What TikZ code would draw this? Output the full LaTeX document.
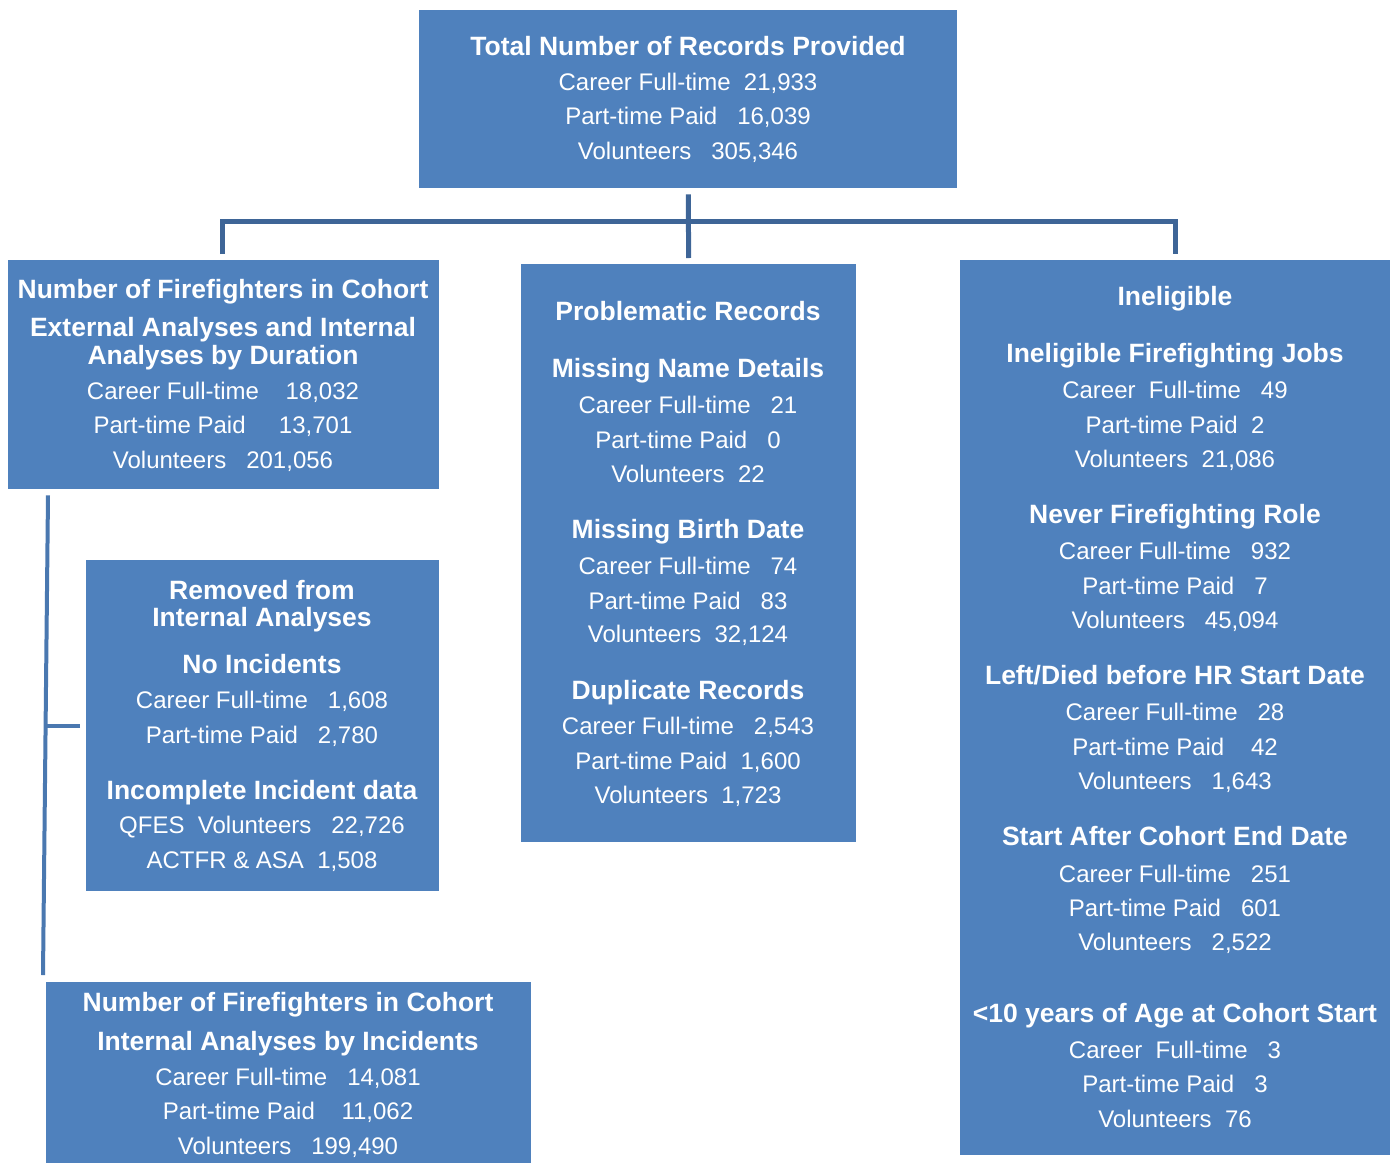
\documentclass[tikz,border=0pt]{standalone}
\usepackage{fontspec}
\setmainfont{Liberation Sans}
\definecolor{boxblue}{HTML}{4F81BD}
\definecolor{connblue}{HTML}{3E6597}
\definecolor{sideblue}{HTML}{4A78B0}
\newcommand\bhead[1]{\setbox0=\hbox{\fontsize{26.5}{30}\selectfont\bfseries #1}\dp0=0pt \ht0=19pt \box0}
\begin{document}
\begin{tikzpicture}[x=1pt,y=-1pt,
  box/.style={fill=boxblue,draw=none,inner sep=0pt,anchor=north west},
  txt/.style={text=white,inner sep=0pt,font=\fontsize{24}{28}\selectfont},
  conn/.style={draw=connblue,line width=5pt},
  sideconn/.style={draw=sideblue,line width=4pt}]
\useasboundingbox (0,0) rectangle (1396,1162);
% boxes
\node[box,minimum width=538pt,minimum height=178pt] (top) at (419,10) {};
\node[box,minimum width=431pt,minimum height=229pt] (left1) at (8,260) {};
\node[box,minimum width=335pt,minimum height=578pt] (mid) at (521,264) {};
\node[box,minimum width=430pt,minimum height=895pt] (right) at (960,260) {};
\node[box,minimum width=353pt,minimum height=331pt] (removed) at (86,560) {};
\node[box,minimum width=485pt,minimum height=182pt] (bottom) at (46,982) {};
% texts
\foreach \y/\t in {46/{\bhead{Total Number of Records Provided}},
  83/{Career Full-time~~21,933},
  117/{Part-time Paid~~~16,039},
  152/{Volunteers~~~305,346}}
  \node[txt] (ttop\y) at (688,\y) {\t};
\foreach \y/\t in {289/{\bhead{Number of Firefighters in Cohort}},
  327/{\bhead{External Analyses and Internal}},
  355/{\bhead{Analyses by Duration}},
  392/{Career Full-time~~~~18,032},
  426/{Part-time Paid~~~~~13,701},
  461/{Volunteers~~~201,056}}
  \node[txt] (tleft\y) at (223,\y) {\t};
\foreach \y/\t in {590/{\bhead{Removed from}},
  617/{\bhead{Internal Analyses}},
  664/{\bhead{No Incidents}},
  701/{Career Full-time~~~1,608},
  736/{Part-time Paid~~~2,780},
  790/{\bhead{Incomplete Incident data}},
  827/{QFES~~Volunteers~~~22,726},
  862/{ACTFR \& ASA~~1,508}}
  \node[txt] (trem\y) at (262,\y) {\t};
\foreach \y/\t in {1002/{\bhead{Number of Firefighters in Cohort}},
  1041/{\bhead{Internal Analyses by Incidents}},
  1078/{Career Full-time~~~14,081},
  1112/{Part-time Paid~~~~11,062},
  1147/{Volunteers~~~199,490}}
  \node[txt] (tbot\y) at (288,\y) {\t};
\foreach \y/\t in {311/{\bhead{Problematic Records}},
  368/{\bhead{Missing Name Details}},
  405/{Career Full-time~~~21},
  440/{Part-time Paid~~~0},
  474/{Volunteers~~22},
  529/{\bhead{Missing Birth Date}},
  566/{Career Full-time~~~74},
  601/{Part-time Paid~~~83},
  635/{Volunteers~~32,124},
  690/{\bhead{Duplicate Records}},
  727/{Career Full-time~~~2,543},
  762/{Part-time Paid~~1,600},
  796/{Volunteers~~1,723}}
  \node[txt] (tmid\y) at (688,\y) {\t};
\foreach \y/\t in {296/{\bhead{Ineligible}},
  353/{\bhead{Ineligible Firefighting Jobs}},
  390/{Career~~Full-time~~~49},
  425/{Part-time Paid~~2},
  460/{Volunteers~~21,086},
  514/{\bhead{Never Firefighting Role}},
  551/{Career Full-time~~~932},
  586/{Part-time Paid~~~7},
  621/{Volunteers~~~45,094},
  675/{\bhead{Left/Died before HR Start Date}},
  712/{Career Full-time~~~28},
  747/{Part-time Paid~~~~42},
  782/{Volunteers~~~1,643},
  836/{\bhead{Start After Cohort End Date}},
  874/{Career Full-time~~~251},
  908/{Part-time Paid~~~601},
  943/{Volunteers~~~2,522},
  1013/{\bhead{<10 years of Age at Cohort Start}},
  1050/{Career~~Full-time~~~3},
  1084/{Part-time Paid~~~3},
  1119/{Volunteers~~76}}
  \node[txt] (tright\y) at (1175,\y) {\t};
% connectors
\coordinate (bar) at (688,221);
\draw[conn,shorten <=6pt,shorten >=6pt] (top.south) -- (mid.north);
\draw[conn,shorten <=6pt,shorten >=6pt] ([xshift=-1.5pt]left1.north) |- (bar) -| (right.north);
\coordinate (lvtop) at ([xshift=40pt,yshift=-6pt]left1.south west);
\coordinate (lvbot) at ([xshift=-3pt,yshift=7pt]bottom.north west);
\draw[sideconn] (lvtop) -- (lvbot);
\draw[sideconn,shorten <=6pt] (removed.west) -- (removed.west -| 46,0);
\end{tikzpicture}
\end{document}
